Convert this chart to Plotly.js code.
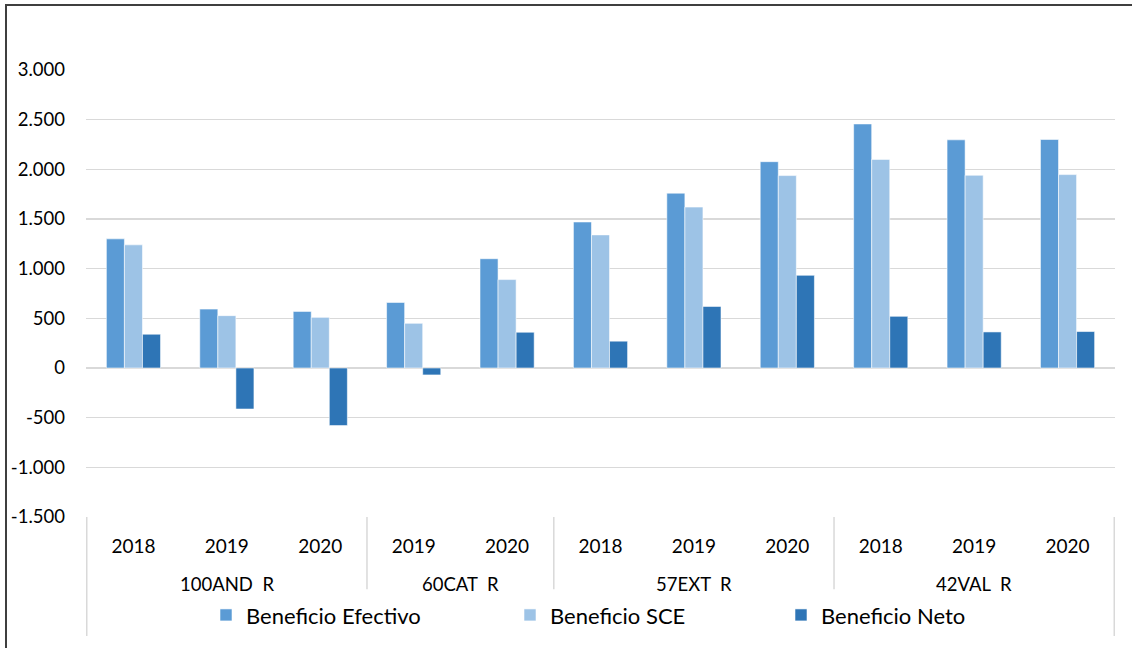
<!DOCTYPE html>
<html>
<head>
<meta charset="utf-8">
<script src="https://cdn.plot.ly/plotly-3.0.1.min.js"></script>
<style>
html,body{margin:0;padding:0;background:#fff;}
#wrap{position:relative;width:1132px;height:648px;overflow:hidden;}
#chart{position:absolute;left:0;top:0;width:1132px;height:648px;}
#frame{position:absolute;left:5px;top:4px;width:1140px;height:660px;border-left:2px solid #3f3f3f;border-top:2px solid #3f3f3f;pointer-events:none;}
</style>
</head>
<body>
<div id="wrap"><div id="chart"></div><div id="frame"></div></div>
<script>
// ---- data ----
const groups = ['100AND\u00a0 R','100AND\u00a0 R','100AND\u00a0 R','60CAT\u00a0 R','60CAT\u00a0 R','57EXT\u00a0 R','57EXT\u00a0 R','57EXT\u00a0 R','42VAL\u00a0 R','42VAL\u00a0 R','42VAL\u00a0 R'];
const years = ['2018','2019','2020','2019','2020','2018','2019','2020','2018','2019','2020'];
const beneficioEfectivo = [1300, 593, 570, 660, 1100, 1470, 1760, 2077, 2457, 2297, 2300];
const beneficioSCE      = [1240, 527, 510, 450,  890, 1340, 1620, 1937, 2100, 1940, 1947];
const beneficioNeto     = [ 340,-413,-580, -70,  360,  270,  620,  933,  520,  363,  367];
const yTickVals  = [-1500,-1000,-500,0,500,1000,1500,2000,2500,3000];
const yTickText  = ['-1.500','-1.000','-500','0','500','1.000','1.500','2.000','2.500','3.000'];
const seriesNames = ['Beneficio Efectivo','Beneficio SCE','Beneficio Neto'];
const seriesColors = ['#5b9bd5','#9dc3e6','#2e75b6'];

// unique category keys
const cats = groups.map((g,i)=>g+'|'+years[i]);
const FONT = 'Lato, "Open Sans", sans-serif';
const series = [beneficioEfectivo, beneficioSCE, beneficioNeto];
const legendIds = ['legend','legend2','legend3'];
const traces = series.map((vals,k)=>({
  type:'bar', x:cats, y:vals, name:seriesNames[k], legend:legendIds[k],
  marker:{color:seriesColors[k], line:{color:'rgba(255,255,255,0.7)', width:0.8}},
  hoverinfo:'y+name'
}));

// group spans
const spans = [];
groups.forEach((g,i)=>{
  if(!spans.length || spans[spans.length-1].name!==g) spans.push({name:g,start:i,end:i});
  else spans[spans.length-1].end=i;
});
const TOP = 70, BOT = 521;
const H = BOT - TOP;
const py = (pix)=> (BOT-pix)/H;
const ann = spans.map(s=>({
  xref:'x', yref:'paper', x:(s.start+s.end)/2, y:py(589),
  text:s.name, showarrow:false, xanchor:'center', yanchor:'middle',
  font:{family:FONT,size:18.5,color:'#000'}
}));
const lineCol = '#d9d9d9';
const shapes = [];
spans.forEach((s,idx)=>{
  const isFirst = idx===0;
  shapes.push({type:'line', xref:'x', yref:'paper', x0:s.start-0.5, x1:s.start-0.5,
    y0:0, y1: isFirst ? py(641) : py(594), line:{color:lineCol,width:1.5}});
});
shapes.push({type:'line', xref:'x', yref:'paper', x0:cats.length-0.5, x1:cats.length-0.5,
  y0:0, y1:py(641), line:{color:lineCol,width:1.5}});

const legCommon = {orientation:'h', xanchor:'left', yanchor:'middle', y:py(620),
  font:{family:FONT,size:22,color:'#000'}, bgcolor:'rgba(0,0,0,0)', borderwidth:0};
const layout = {
  width:1132, height:648,
  margin:{l:86, r:17, t:TOP, b:648-BOT, pad:0},
  paper_bgcolor:'rgba(0,0,0,0)', plot_bgcolor:'#fff',
  barmode:'group', bargap:0.42, bargroupgap:0,
  font:{family:FONT, color:'#000'},
  xaxis:{type:'category', tickvals:cats, ticktext:years, showgrid:false, zeroline:false,
    showline:false, ticks:'', tickfont:{family:FONT,size:19,color:'#000'}, ticklabelstandoff:16,
    fixedrange:true},
  yaxis:{range:[-1500,3000], tickvals:yTickVals, ticktext:yTickText, showgrid:true,
    gridcolor:lineCol, gridwidth:1.5, zeroline:false, showline:false, ticks:'',
    tickfont:{family:FONT,size:18.5,color:'#000'}, ticklabelstandoff:20, fixedrange:true},
  legend: Object.assign({x:(206-86)/1029}, legCommon),
  legend2: Object.assign({x:(510-86)/1029}, legCommon),
  legend3: Object.assign({x:(781-86)/1029}, legCommon),
  annotations:ann, shapes:shapes, showlegend:true
};
Plotly.newPlot('chart', traces, layout, {displayModeBar:false, staticPlot:true});
</script>
</body>
</html>
